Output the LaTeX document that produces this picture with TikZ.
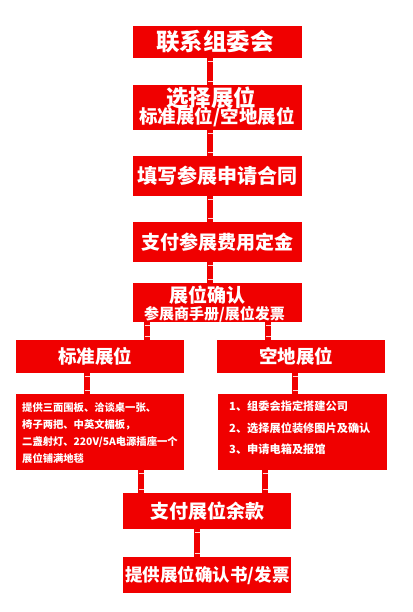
\documentclass[tikz,border=0pt]{standalone}
\usepackage{fontspec}
\setmainfont{Noto Sans CJK SC}
\usetikzlibrary{decorations.markings}
\definecolor{boxred}{RGB}{240,0,0}
\tikzset{
  box/.style={draw=none, fill=boxred, text=white, font=\bfseries, inner sep=0pt, anchor=center},
  small/.style={font=\bfseries\fontsize{10.3}{12}\selectfont, text=white, inner sep=0pt},
  smallr/.style={font=\bfseries\fontsize{11.2}{13}\selectfont, text=white, inner sep=0pt},
  link/.style={draw=boxred, line width=6.5pt,
    postaction={decorate, decoration={markings,
      mark=at position 3pt with {\draw[white!85!boxred, line width=0.9pt] (0,-2.5pt) -- (0,2.5pt);},
      mark=at position -3pt with {\draw[white!85!boxred, line width=0.9pt] (0,-2.5pt) -- (0,2.5pt);}}}},
  wtext/.style={text=white, inner sep=0pt}
}
\begin{document}
\begin{tikzpicture}[x=1pt, y=-1pt]
\useasboundingbox (0,0) rectangle (412,612);
\fill[white] (0,0) rectangle (412,612);
% coordinates for connector columns
\coordinate (cA) at (210,0);
\coordinate (cL) at (147,0);
\coordinate (cR) at (268,0);
\coordinate (cL2) at (87,0);
\coordinate (cR2) at (295,0);
\coordinate (cL3) at (141,0);
\coordinate (cR3) at (265,0);
\coordinate (cB) at (197,0);
% boxes
\node[box, minimum width=169pt, minimum height=32pt] (b1) at (217.5,42) {};
\node[box, minimum width=169pt, minimum height=45pt] (b2) at (217.5,107.5) {};
\node[box, minimum width=169pt, minimum height=40pt] (b3) at (217.5,176) {};
\node[box, minimum width=169pt, minimum height=40pt] (b4) at (217.5,242) {};
\node[box, minimum width=169pt, minimum height=39pt] (b5) at (217.5,302.5) {};
\node[box, minimum width=168pt, minimum height=33pt] (bl) at (100,356.5) {};
\node[box, minimum width=168pt, minimum height=33pt] (br) at (301,356.5) {};
\node[box, minimum width=168pt, minimum height=76pt] (dl) at (100,432) {};
\node[box, minimum width=169pt, minimum height=76pt] (dr) at (302.5,432) {};
\node[box, minimum width=168pt, minimum height=36pt] (b6) at (207,511) {};
\node[box, minimum width=168pt, minimum height=36pt] (b7) at (207,575) {};
% connectors
\draw[link] (b1.south -| cA) -- (b2.north -| cA);
\draw[link] (b2.south -| cA) -- (b3.north -| cA);
\draw[link] (b3.south -| cA) -- (b4.north -| cA);
\draw[link] (b4.south -| cA) -- (b5.north -| cA);
\draw[link] (b5.south -| cL) -- (bl.north -| cL);
\draw[link] (b5.south -| cR) -- (br.north -| cR);
\draw[link] (bl.south -| cL2) -- (dl.north -| cL2);
\draw[link] (br.south -| cR2) -- (dr.north -| cR2);
\draw[link] (dl.south -| cL3) -- (b6.north -| cL3);
\draw[link] (dr.south -| cR3) -- (b6.north -| cR3);
\draw[link] (b6.south -| cB) -- (b7.north -| cB);
% texts
\node[wtext, font=\bfseries\fontsize{23.5}{25}\selectfont] (t1) at (215,42) {联系组委会};
\node[wtext, font=\bfseries\fontsize{22.5}{25}\selectfont] (t2a) at (211,98) {选择展位};
\node[wtext, font=\bfseries\fontsize{18.5}{20}\selectfont] (t2b) at (217,117.5) {标准展位/空地展位};
\node[wtext, font=\bfseries\fontsize{20}{22}\selectfont] (t3) at (217,176) {填写参展申请合同};
\node[wtext, font=\bfseries\fontsize{19}{21}\selectfont] (t4) at (217.5,242) {支付参展费用定金};
\node[wtext, font=\bfseries\fontsize{19}{21}\selectfont] (t5a) at (207.5,295) {展位确认};
\node[wtext, font=\bfseries\fontsize{15}{17}\selectfont] (t5b) at (214.5,314.5) {参展商手册/展位发票};
\node[wtext, font=\bfseries\fontsize{18.5}{20}\selectfont] (tl) at (95,356.5) {标准展位};
\node[wtext, font=\bfseries\fontsize{18.5}{20}\selectfont] (tr) at (296,356.5) {空地展位};
\node[small, anchor=west] (dl1) at (22,408) {提供三面围板、洽谈桌一张、};
\node[small, anchor=west] (dl2) at (22,425) {椅子两把、中英文楣板，};
\node[small, anchor=west] (dl3) at (22,442) {二盏射灯、220V/5A电源插座一个};
\node[small, anchor=west] (dl4) at (22,459) {展位铺满地毯};
\node[smallr, anchor=west] (dr1) at (229,406) {1、组委会指定搭建公司};
\node[smallr, anchor=west] (dr2) at (229,428) {2、选择展位装修图片及确认};
\node[smallr, anchor=west] (dr3) at (229,449) {3、申请电箱及报馆};
\node[wtext, font=\bfseries\fontsize{19}{21}\selectfont] (t6) at (207.5,511) {支付展位余款};
\node[wtext, font=\bfseries\fontsize{17.5}{20}\selectfont] (t7) at (207.5,575) {提供展位确认书/发票};
\end{tikzpicture}
\end{document}
